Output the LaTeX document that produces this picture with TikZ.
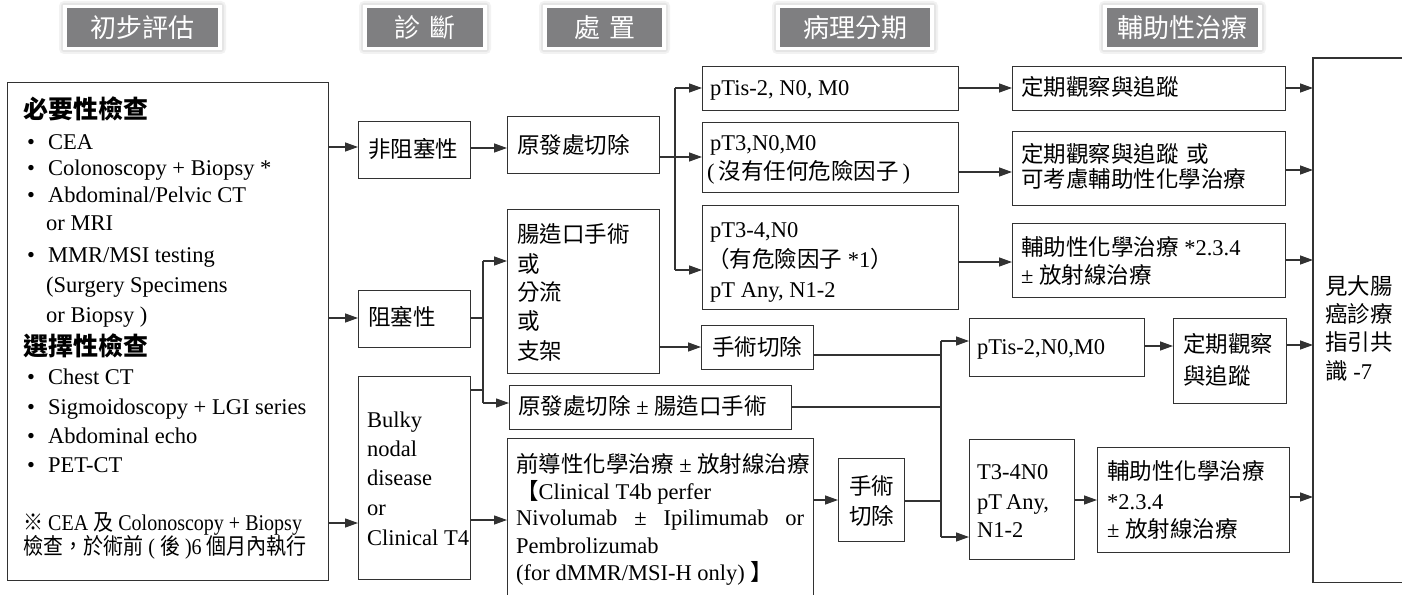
\documentclass[tikz,border=0pt]{standalone}
\usepackage{graphicx}
\usepackage{fontspec}
\setmainfont{Liberation Serif}
\newfontfamily\cjk{Noto Sans CJK TC}
\usetikzlibrary{arrows.meta}
\definecolor{linec}{RGB}{50,50,50}
\definecolor{tabgray}{RGB}{127,127,129}
\newcommand\zh[1]{{\cjk #1}}
\newcommand\bx[5]{\node[box,minimum width={(#4-#2)*1pt},minimum height={(#5-#3)*1pt}] (#1) at (#2,#3) {};}
\newcommand\tx[4]{\node[txt] (#1) at (#2,#3) {#4};}
\newcommand\tabbox[6]{%
  \fill[black!5,rounded corners=5pt] (#2-8,#3-7) rectangle (#4+8,#5+7);
  \fill[black!10,rounded corners=3pt] (#2-6,#3-5) rectangle (#4+6,#5+5);
  \fill[white] (#2-4,#3-3) rectangle (#4+4,#5+3);
  \node[tabst,minimum width={(#4-#2)*1pt},minimum height={(#5-#3)*1pt}] (#1) at ({(#2+#4)/2},{(#3+#5)/2}) {#6};}
\begin{document}
\begin{tikzpicture}[x=1pt,y=-1pt,
  box/.style={draw=linec,line width=1.3pt,inner sep=0pt,anchor=north west},
  txt/.style={inner sep=0pt,anchor=west,text height=18pt,text depth=3pt,font=\fontsize{22.5}{27}\selectfont},
  tabst/.style={fill=tabgray,text=white,inner sep=0pt,anchor=center,font=\fontsize{26}{30}\selectfont\cjk},
  ln/.style={draw=linec,line width=1.3pt},
  arr/.style={draw=linec,line width=1.3pt,-{Triangle[length=13pt,width=9pt]}}]
\useasboundingbox (0,0) rectangle (1402,594);
\fill[white] (0,0) rectangle (1402,594);

% header tabs
\tabbox{tA}{67}{8}{218}{47}{初步評估}
\tabbox{tB}{367}{8}{483}{47}{診\hspace{9pt}斷}
\tabbox{tC}{547}{8}{662}{47}{處\hspace{9pt}置}
\tabbox{tD}{780}{8}{930}{47}{病理分期}
\tabbox{tE}{1107}{8}{1258}{47}{輔助性治療}

% boxes
\bx{left}{7}{82}{328}{580}
\bx{nonobs}{358}{121}{470}{178}
\bx{obs}{358}{290}{470}{347}
\bx{bulky}{358}{376}{470}{579}
\bx{prim}{507}{116}{659}{173}
\bx{stoma}{507}{209}{659}{373}
\bx{primst}{509}{385}{791}{429}
\bx{neo}{507}{438}{813}{600}
\bx{surgA}{701}{325}{813}{369}
\bx{surgB}{838}{458}{904}{541}
\bx{pA}{702}{66}{958}{110}
\bx{pB}{702}{122}{958}{192}
\bx{pC}{702}{205}{958}{309}
\bx{aA}{1012}{66}{1285}{110}
\bx{aB}{1012}{131}{1285}{205}
\bx{aC}{1012}{223}{1285}{297}
\bx{pD}{969}{318}{1144}{376}
\bx{pE}{969}{439}{1074}{559}
\bx{aD}{1173}{318}{1286}{403}
\bx{aE}{1097}{447}{1289}{552}
\node[inner sep=0pt,anchor=north west,minimum width=110pt,minimum height=524pt] (tall) at (1313,58) {};
\draw[ln] (tall.north east) -- (tall.north west) -- (tall.south west) -- (tall.south east);

% left box text
\tx{h1}{23}{111}{\fontsize{25}{30}\selectfont\cjk\bfseries 必要性檢查}
\tx{l1}{27}{142}{\textbullet\hspace{13pt}CEA}
\tx{l2}{27}{168}{\textbullet\hspace{13pt}Colonoscopy + Biopsy *}
\tx{l3}{27}{195}{\textbullet\hspace{13pt}Abdominal/Pelvic CT}
\tx{l4}{46}{223}{or MRI}
\tx{l5}{27}{255}{\textbullet\hspace{13pt}MMR/MSI testing}
\tx{l6}{46}{285}{(Surgery Specimens}
\tx{l7}{46}{315}{or Biopsy )}
\tx{h2}{23}{348}{\fontsize{25}{30}\selectfont\cjk\bfseries 選擇性檢查}
\tx{l8}{27}{377}{\textbullet\hspace{13pt}Chest CT}
\tx{l9}{27}{407}{\textbullet\hspace{13pt}Sigmoidoscopy + LGI series}
\tx{l10}{27}{436}{\textbullet\hspace{13pt}Abdominal echo}
\tx{l11}{27}{465}{\textbullet\hspace{13pt}PET-CT}
\tx{l12}{23}{523}{\scalebox{0.89}[1]{\zh{※} CEA \zh{及} Colonoscopy + Biopsy}}
\tx{l13}{23}{547}{\scalebox{0.89}[1]{\zh{檢查，於術前} ( \zh{後} )6 \zh{個月內執行}}}

% column 2
\tx{n1}{368}{150}{\zh{非阻塞性}}
\tx{o1}{368}{318}{\zh{阻塞性}}
\tx{b1}{367}{420}{Bulky}
\tx{b2}{367}{449}{nodal}
\tx{b3}{367}{478}{disease}
\tx{b4}{367}{508}{or}
\tx{b5}{367}{538}{Clinical T4}

% column 3
\tx{r1}{517}{146}{\zh{原發處切除}}
\tx{s1}{517}{235}{\zh{腸造口手術}}
\tx{s2}{517}{265}{\zh{或}}
\tx{s3}{517}{293}{\zh{分流}}
\tx{s4}{517}{322}{\zh{或}}
\tx{s5}{517}{352}{\zh{支架}}
\tx{ps1}{518}{407}{\zh{原發處切除} ± \zh{腸造口手術}}
\tx{ne1}{516}{465}{\zh{前導性化學治療} ± \zh{放射線治療}}
\tx{ne2}{516}{492}{\zh{【}Clinical T4b perfer}
\tx{ne3}{516}{518}{\hbox to 288pt{Nivolumab\hfill±\hfill Ipilimumab\hfill or}}
\tx{ne4}{516}{546}{Pembrolizumab}
\tx{ne5}{516}{573}{(for dMMR/MSI-H only) \zh{】}}
\tx{sa1}{712}{348}{\zh{手術切除}}
\tx{sb1}{849}{487}{\zh{手術}}
\tx{sb2}{849}{517}{\zh{切除}}

% stages
\tx{pa1}{710}{88}{pTis-2, N0, M0}
\tx{pb1}{710}{143}{pT3,N0,M0}
\tx{pb2}{707}{172}{(\hspace{4pt}\zh{沒有任何危險因子}\hspace{4pt})}
\tx{pc1}{710}{230}{pT3-4,N0}
\tx{pc2}{707}{260}{\zh{（有危險因子} *1\zh{）}}
\tx{pc3}{710}{290}{pT Any, N1-2}
\tx{pd1}{977}{347}{pTis-2,N0,M0}
\tx{pe1}{977}{472}{T3-4N0}
\tx{pe2}{977}{502}{pT\hspace{4pt}Any,}
\tx{pe3}{977}{530}{N1-2}

% adjuvant
\tx{aa1}{1021}{88}{\zh{定期觀察與追蹤}}
\tx{ab1}{1021}{155}{\zh{定期觀察與追蹤\hspace{8pt}或}}
\tx{ab2}{1021}{180}{\zh{可考慮輔助性化學治療}}
\tx{ac1}{1021}{248}{\zh{輔助性化學治療} *2.3.4}
\tx{ac2}{1021}{276}{± \zh{放射線治療}}
\tx{ad1}{1183}{345}{\zh{定期觀察}}
\tx{ad2}{1183}{377}{\zh{與追蹤}}
\tx{ae1}{1107}{472}{\zh{輔助性化學治療}}
\tx{ae2}{1107}{502}{*2.3.4}
\tx{ae3}{1107}{530}{± \zh{放射線治療}}
\tx{tl1}{1325}{287}{\zh{見大腸}}
\tx{tl2}{1325}{315}{\zh{癌診療}}
\tx{tl3}{1325}{343}{\zh{指引共}}
\tx{tl4}{1325}{372}{\zh{識} -7}

% connectors
\draw[arr] (left.east |- 0,147) -- (nonobs.west |- 0,147);
\draw[arr] (left.east |- 0,318) -- (obs.west |- 0,318);
\draw[arr] (left.east |- 0,523) -- (bulky.west |- 0,523);
\draw[arr] (nonobs.east |- 0,148) -- (prim.west |- 0,148);
\draw[arr] (prim.east |- 0,157) -- (pB.west |- 0,157);
\coordinate (j1) at (675,88);
\coordinate (j2) at (675,270);
\draw[ln] (j1) -- (j2);
\draw[arr] (j1) -- (pA.west |- j1);
\draw[arr] (j2) -- (pC.west |- j2);
\coordinate (j3) at (483,261);
\coordinate (j4) at (483,403);
\coordinate (j5) at (483,318);
\coordinate (j6) at (483,390);
\draw[ln] (obs.east |- j5) -- (j5);
\draw[ln] (j3) -- (j4);
\draw[arr] (j3) -- (stoma.west |- j3);
\draw[arr] (j4) -- (primst.west |- j4);
\draw[ln] (bulky.east |- j6) -- (j6);
\draw[arr] (bulky.east |- 0,520) -- (neo.west |- 0,520);
\draw[arr] (stoma.east |- 0,347) -- (surgA.west |- 0,347);
\coordinate (k1) at (941,341);
\coordinate (k2) at (941,537);
\coordinate (k3) at (941,355);
\coordinate (k4) at (941,407);
\coordinate (k5) at (941,501);
\draw[ln] (surgA.east |- k3) -- (k3);
\draw[ln] (primst.east |- k4) -- (k4);
\draw[arr] (neo.east |- 0,500) -- (surgB.west |- 0,500);
\draw[ln] (surgB.east |- k5) -- (k5);
\draw[ln] (k1) -- (k2);
\draw[arr] (k1) -- (pD.west |- k1);
\draw[arr] (k2) -- (pE.west |- k2);
\draw[arr] (pA.east |- 0,88) -- (aA.west |- 0,88);
\draw[arr] (pB.east |- 0,172) -- (aB.west |- 0,172);
\draw[arr] (pC.east |- 0,262) -- (aC.west |- 0,262);
\draw[arr] (pD.east |- 0,346) -- (aD.west |- 0,346);
\draw[arr] (pE.east |- 0,500) -- (aE.west |- 0,500);
\draw[arr] (aA.east |- 0,88) -- (tall.west |- 0,88);
\draw[arr] (aB.east |- 0,170) -- (tall.west |- 0,170);
\draw[arr] (aC.east |- 0,260) -- (tall.west |- 0,260);
\draw[arr] (aD.east |- 0,345) -- (tall.west |- 0,345);
\draw[arr] (aE.east |- 0,497) -- (tall.west |- 0,497);
\end{tikzpicture}
\end{document}
